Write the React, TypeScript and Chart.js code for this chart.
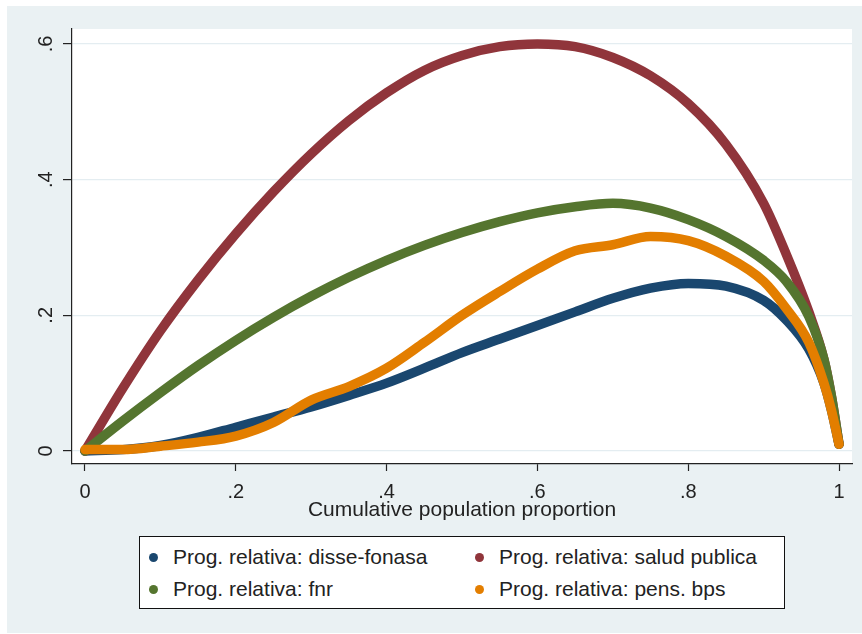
import React, { useEffect, useRef } from 'react';
import { Chart, registerables } from 'chart.js';

Chart.register(...registerables);

// ---- data ----
const populationShare = [0, 0.05, 0.1, 0.15, 0.2, 0.25, 0.3, 0.35, 0.4, 0.45, 0.5, 0.55, 0.6, 0.65, 0.7, 0.75, 0.8, 0.85, 0.9, 0.93, 0.96, 0.98, 0.99, 1];
const disseFonasa = [0, 0.002, 0.008, 0.02, 0.035, 0.05, 0.065, 0.082, 0.1, 0.122, 0.145, 0.165, 0.185, 0.205, 0.225, 0.24, 0.247, 0.243, 0.222, 0.193, 0.15, 0.1, 0.06, 0.01];
const saludPublica = [0, 0.092, 0.177, 0.252, 0.32, 0.382, 0.438, 0.487, 0.528, 0.561, 0.583, 0.596, 0.6, 0.596, 0.58, 0.553, 0.512, 0.452, 0.365, 0.29, 0.205, 0.135, 0.08, 0.01];
const fnr = [0, 0.044, 0.086, 0.126, 0.163, 0.197, 0.228, 0.256, 0.281, 0.303, 0.322, 0.338, 0.351, 0.36, 0.365, 0.358, 0.341, 0.316, 0.281, 0.25, 0.198, 0.135, 0.08, 0.01];
const pensBps = [0.002, 0.002, 0.007, 0.013, 0.022, 0.042, 0.075, 0.095, 0.122, 0.16, 0.2, 0.235, 0.268, 0.295, 0.304, 0.316, 0.31, 0.287, 0.25, 0.21, 0.16, 0.1, 0.06, 0.01];

const seriesLabels = [
  'Prog. relativa: disse-fonasa',
  'Prog. relativa: salud publica',
  'Prog. relativa: fnr',
  'Prog. relativa: pens. bps',
];
const xTickValues = [0, 0.2, 0.4, 0.6, 0.8, 1];
const xTickLabels = ['0', '.2', '.4', '.6', '.8', '1'];
const yTickValues = [0, 0.2, 0.4, 0.6];
const yTickLabels = ['0', '.2', '.4', '.6'];
const xAxisTitle = 'Cumulative population proportion';

// ---- styles ----
const COLORS = ['#1a476f', '#90353b', '#55752f', '#e37e00'];
const DRAW_ORDER = [4, 3, 2, 1];
const FONT = "'Liberation Sans', Arial, sans-serif";
const BG = '#eaf1f3';
const INK = '#222222';

const bgPlugin = {
  id: 'stataBackground',
  beforeDraw(chart: any) {
    const { ctx, chartArea } = chart;
    ctx.save();
    ctx.fillStyle = '#ffffff';
    ctx.fillRect(0, 0, chart.width, chart.height);
    ctx.fillStyle = BG;
    ctx.fillRect(7, 6, chart.width - 7, chart.height - 7);
    ctx.fillStyle = '#ffffff';
    ctx.fillRect(chartArea.left, chartArea.top, chartArea.right - chartArea.left, chartArea.bottom - chartArea.top);
    ctx.restore();
  },
};

export default function App() {
  const canvasRef = useRef<HTMLCanvasElement | null>(null);

  useEffect(() => {
    const series = [disseFonasa, saludPublica, fnr, pensBps];
    const chart = new Chart(canvasRef.current as HTMLCanvasElement, {
      type: 'line',
      data: {
        datasets: series.map((vals, i) => ({
          label: seriesLabels[i],
          data: populationShare.map((x, j) => ({ x, y: vals[j] })),
          borderColor: COLORS[i],
          backgroundColor: COLORS[i],
          borderWidth: 9.5,
          pointRadius: 0,
          fill: false,
          cubicInterpolationMode: 'monotone',
          borderCapStyle: 'round',
          borderJoinStyle: 'round',
          order: DRAW_ORDER[i],
        })),
      },
      options: {
        responsive: false,
        animation: false,
        devicePixelRatio: 1,
        layout: { padding: { left: 8, right: 10, top: 29, bottom: 111 }, autoPadding: false },
        plugins: { legend: { display: false }, tooltip: { enabled: false }, title: { display: false } },
        scales: {
          x: {
            type: 'linear',
            min: -0.0172,
            max: 1.0172,
            afterBuildTicks: (s: any) => { s.ticks = xTickValues.map((v) => ({ value: v })); },
            afterFit: (s: any) => { s.height = 59; },
            ticks: {
              callback: (_v: any, i: number) => xTickLabels[i],
              font: { family: FONT, size: 20 },
              color: INK,
              padding: 9,
              maxRotation: 0,
              autoSkip: false,
            },
            grid: { drawOnChartArea: false, drawTicks: true, tickLength: 7, tickColor: INK, tickWidth: 1.2 },
            border: { display: true, color: INK, width: 1.2 },
            title: { display: true, text: xAxisTitle, font: { family: FONT, size: 21 }, color: INK, padding: 0 },
          },
          y: {
            type: 'linear',
            min: -0.0192,
            max: 0.622,
            afterBuildTicks: (s: any) => { s.ticks = yTickValues.map((v) => ({ value: v })); },
            afterFit: (s: any) => { s.width = 64; },
            ticks: {
              callback: (_v: any, i: number) => yTickLabels[i],
              font: { family: FONT, size: 20 },
              color: INK,
              padding: 8,
              minRotation: 90,
              maxRotation: 90,
              crossAlign: 'center',
              autoSkip: false,
            },
            grid: { color: '#e4edf1', lineWidth: 1.2, drawTicks: true, tickLength: 9, tickColor: INK, tickWidth: 1.2 },
            border: { display: true, color: INK, width: 1.2 },
          },
        },
      },
      plugins: [bgPlugin],
    } as any);
    return () => chart.destroy();
  }, []);

  const rows = [
    [0, 1],
    [2, 3],
  ];
  const rowCenters = [21, 53];
  const colDot = [14, 340];
  const colText = [33, 359];

  return (
    <div style={{ position: 'absolute', left: 0, top: 0, width: 862, height: 634, overflow: 'hidden' }}>
      <canvas ref={canvasRef} width={862} height={634} style={{ display: 'block', width: 862, height: 634 }} />
      <div
        style={{
          position: 'absolute',
          left: 139,
          top: 536,
          width: 646,
          height: 73,
          boxSizing: 'border-box',
          border: '1.2px solid #111',
          background: '#ffffff',
          fontFamily: FONT,
          fontSize: 21,
          color: INK,
        }}
      >
        {rows.map((row, r) =>
          row.map((si, c) => (
            <React.Fragment key={si}>
              <div
                style={{
                  position: 'absolute',
                  left: colDot[c] - 5,
                  top: rowCenters[r] - 5,
                  width: 9,
                  height: 9,
                  borderRadius: '50%',
                  background: COLORS[si],
                }}
              />
              <div
                style={{
                  position: 'absolute',
                  left: colText[c],
                  top: rowCenters[r] - 13,
                  height: 24,
                  lineHeight: '24px',
                  whiteSpace: 'nowrap',
                }}
              >
                {seriesLabels[si]}
              </div>
            </React.Fragment>
          ))
        )}
      </div>
    </div>
  );
}
